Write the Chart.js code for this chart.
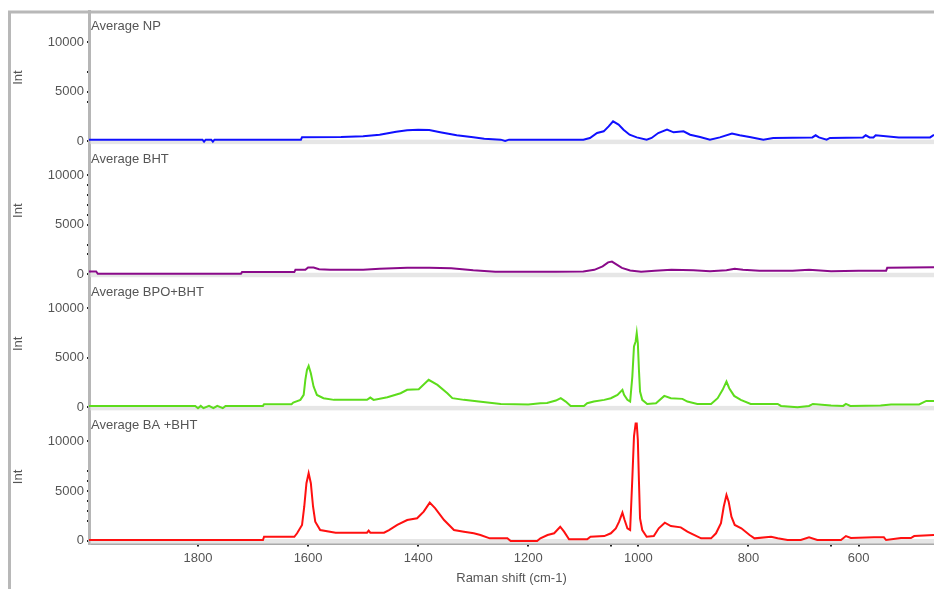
<!DOCTYPE html>
<html>
<head>
<meta charset="utf-8">
<script src="https://cdn.jsdelivr.net/npm/chart.js@4/dist/chart.umd.min.js"></script>
<style>
  html, body { margin: 0; padding: 0; background: #fff; }
  #wrap { position: relative; width: 934px; height: 589px; }
</style>
</head>
<body>
<div id="wrap"><canvas id="spectra" width="934" height="589"></canvas></div>
<script>
// Raman spectra, averaged per sample: [Raman shift (cm-1), intensity]
const npSpectrum = [
  [1998,150],[1900,150],[1792,150],[1789,-50],[1786,150],[1776,150],[1773,-50],[1770,150],
  [1700,150],[1613,150],[1611,400],[1540,420],[1500,500],[1470,650],[1440,950],[1420,1100],
  [1400,1150],[1380,1120],[1360,900],[1330,600],[1300,400],[1280,250],[1250,150],[1242,20],
  [1235,150],[1150,150],[1100,150],[1088,320],[1075,820],[1063,990],[1054,1490],[1046,2000],
  [1036,1670],[1027,1160],[1016,650],[1003,380],[985,150],[976,320],[964,820],[948,1160],
  [936,890],[918,990],[906,650],[888,420],[870,150],[852,380],[830,760],[816,590],[798,420],
  [773,150],[755,320],[684,380],[678,590],[672,380],[658,150],[652,320],[592,380],[587,590],
  [580,380],[573,380],[569,590],[527,380],[470,380],[463,650]
];
const bhtSpectrum = [
  [1998,280],[1985,280],[1982,50],[1722,50],[1720,220],[1625,220],[1623,450],[1605,450],
  [1600,690],[1590,690],[1580,500],[1560,450],[1500,450],[1470,550],[1420,650],[1380,650],
  [1340,600],[1300,400],[1260,250],[1150,250],[1100,280],[1080,450],[1065,800],[1055,1200],
  [1048,1280],[1040,1000],[1030,650],[1015,380],[995,250],[970,350],[940,450],[900,400],
  [870,300],[840,400],[825,550],[810,450],[780,350],[720,350],[690,450],[650,300],[600,350],
  [550,350],[548,650],[463,700]
];
const bpoBhtSpectrum = [
  [1998,150],[1805,150],[1800,-80],[1795,150],[1790,-80],[1780,150],[1772,-80],[1765,150],
  [1755,-80],[1750,150],[1682,150],[1680,320],[1630,320],[1627,480],[1614,760],[1608,1260],
  [1605,2780],[1602,3790],[1599,4190],[1595,3450],[1590,2100],[1584,1260],[1572,930],
  [1553,760],[1493,760],[1487,990],[1481,760],[1456,1030],[1432,1430],[1420,1770],
  [1399,1840],[1381,2780],[1365,2270],[1347,1430],[1338,930],[1317,760],[1290,590],
  [1250,350],[1200,300],[1178,420],[1166,450],[1150,690],[1141,930],[1132,590],[1123,150],
  [1099,150],[1093,420],[1081,590],[1062,760],[1050,930],[1038,1260],[1029,1770],[1026,1260],
  [1020,760],[1015,590],[1011,3110],[1008,6140],[1005,6650],[1003,7510],[1001,6480],
  [999,3790],[997,1600],[993,760],[984,350],[968,420],[953,1160],[941,930],[920,860],
  [911,590],[893,350],[868,350],[856,930],[847,1770],[840,2610],[835,1940],[826,1160],
  [814,760],[796,350],[747,350],[741,150],[711,20],[690,150],[683,350],[650,200],[628,150],
  [623,350],[615,150],[560,200],[541,300],[490,300],[477,650],[463,650]
];
const baBhtSpectrum = [
  [1998,50],[1682,50],[1680,380],[1625,380],[1620,730],[1611,1570],[1607,3410],[1603,5780],
  [1599,6790],[1595,5780],[1591,3410],[1587,1900],[1578,1060],[1550,790],[1493,790],
  [1490,1000],[1487,790],[1462,790],[1453,1060],[1438,1570],[1420,2070],[1402,2240],
  [1390,2910],[1379,3820],[1369,3250],[1353,2070],[1335,1060],[1317,890],[1299,730],
  [1287,560],[1270,220],[1238,220],[1232,-50],[1184,-50],[1178,220],[1165,560],[1153,730],
  [1142,1390],[1135,890],[1126,120],[1093,120],[1087,380],[1062,450],[1050,730],[1041,1230],
  [1035,1900],[1029,2810],[1025,2070],[1020,1230],[1015,1060],[1011,6280],[1008,10500],
  [1005,11800],[1003,11800],[1001,10150],[999,6000],[997,2240],[993,1060],[985,380],
  [972,450],[963,1230],[952,1800],[941,1460],[923,1330],[911,890],[899,560],[886,220],
  [868,220],[859,730],[850,1740],[845,3410],[840,4600],[836,3920],[831,2400],[825,1570],
  [813,1230],[798,560],[789,220],[759,380],[747,220],[729,50],[705,50],[690,320],[675,50],
  [632,50],[623,450],[614,250],[572,320],[554,320],[550,50],[523,250],[505,250],[499,450],
  [463,550]
];

const panelTitles = ['Average NP', 'Average BHT', 'Average BPO+BHT', 'Average BA +BHT'];
const lineColors  = ['#1010ff', '#8a0a8a', '#5ddc1c', '#ff1010'];

const xTickValues = [1800, 1600, 1400, 1200, 1000, 800, 600];
const xMinorTicks = [1050, 650];
const yTickValues = [0, 5000, 10000];
// unlabelled tick dots on each panel's intensity axis, top to bottom
const yMinorNP  = [4000, 7000];
const yMinorBHT = [2000, 3000, 6000, 7000, 8000, 9000];
const yMinorBPO = [];
const yMinorBA  = [2000, 3000, 4000, 6000, 7000];

const FONT = '"Liberation Sans", Arial, sans-serif';
const TEXT = '#555';

// Panels top to bottom; left-stacked axes are laid out last-defined first,
// so the scale ids are listed bottom-up in the options below.
const panelAxes = ['yNP', 'yBHT', 'yBPO', 'yBA'];
const spectra = [npSpectrum, bhtSpectrum, bpoBhtSpectrum, baBhtSpectrum];

function panelAxis(minorTicks) {
  return {
    type: 'linear',
    position: 'left',
    stack: 'panels',
    stackWeight: 1,
    min: -300,
    max: 13130,
    afterBuildTicks: s => { s.ticks = yTickValues.concat(minorTicks).map(v => ({ value: v })); },
    afterFit: s => { s.width = 79; },
    ticks: {
      autoSkip: false,
      padding: 3,
      color: TEXT,
      font: { family: FONT, size: 13 },
      callback: v => yTickValues.includes(v) ? String(v) : ''
    },
    grid: { drawOnChartArea: false, drawTicks: true, tickLength: 2, color: '#222', lineWidth: 2 },
    border: { display: true, color: '#b6b6b6', width: 3 },
    title: {
      display: true, text: 'Int', color: TEXT,
      font: { family: FONT, size: 13 }, padding: { top: 1, bottom: 0 }
    }
  };
}

// Frame, pale separators under each panel and the panel captions.
const panelDecor = {
  id: 'panelDecor',
  beforeDraw(chart) {
    const ctx = chart.ctx;
    ctx.save();
    ctx.strokeStyle = '#b8b8b8';
    ctx.lineWidth = 3;
    ctx.beginPath();
    ctx.moveTo(9.5, 589);
    ctx.lineTo(9.5, 12);
    ctx.lineTo(934, 12);
    ctx.stroke();
    ctx.restore();
  },
  beforeDatasetsDraw(chart) {
    const { ctx, chartArea } = chart;
    ctx.save();
    ctx.fillStyle = '#e6e6e6';
    panelAxes.forEach(id => {
      const s = chart.scales[id];
      ctx.fillRect(chartArea.left + 1.5, s.bottom - 4.5, chartArea.right - chartArea.left, 4.5);
    });
    ctx.fillStyle = TEXT;
    ctx.font = '13px ' + FONT;
    ctx.textBaseline = 'middle';
    ctx.textAlign = 'left';
    panelAxes.forEach((id, i) => {
      const s = chart.scales[id];
      ctx.fillText(panelTitles[i], chartArea.left + 2, s.top + 15.5);
    });
    ctx.restore();
  }
};

new Chart(document.getElementById('spectra'), {
  type: 'line',
  data: {
    datasets: spectra.map((pts, i) => ({
      label: panelTitles[i],
      data: pts.map(([x, y]) => ({ x, y })),
      yAxisID: panelAxes[i],
      borderColor: lineColors[i],
      borderWidth: 2,
      pointRadius: 0,
      tension: 0,
      fill: false
    }))
  },
  options: {
    responsive: false,
    animation: false,
    devicePixelRatio: 1,
    layout: { padding: { left: 10, top: 11, right: 0, bottom: 0 } },
    plugins: { legend: { display: false }, tooltip: { enabled: false } },
    scales: {
      x: {
        type: 'linear',
        position: 'bottom',
        reverse: true,
        min: 463,
        max: 1998,
        afterBuildTicks: s => { s.ticks = xTickValues.concat(xMinorTicks).map(v => ({ value: v })); },
        afterFit: s => { s.height = 45.5; },
        ticks: {
          autoSkip: false,
          maxRotation: 0,
          padding: 4,
          color: TEXT,
          font: { family: FONT, size: 13 },
          callback: v => xTickValues.includes(v) ? String(v) : ''
        },
        grid: { drawOnChartArea: false, drawTicks: true, tickLength: 3, color: '#222', lineWidth: 2 },
        border: { display: true, color: '#a9a9a9', width: 3 },
        title: {
          display: true, text: 'Raman shift (cm-1)', color: TEXT,
          font: { family: FONT, size: 13 }, padding: { top: 0, bottom: 3 }
        }
      },
      yBA: panelAxis(yMinorBA),
      yBPO: panelAxis(yMinorBPO),
      yBHT: panelAxis(yMinorBHT),
      yNP: panelAxis(yMinorNP)
    }
  },
  plugins: [panelDecor]
});
</script>
</body>
</html>
